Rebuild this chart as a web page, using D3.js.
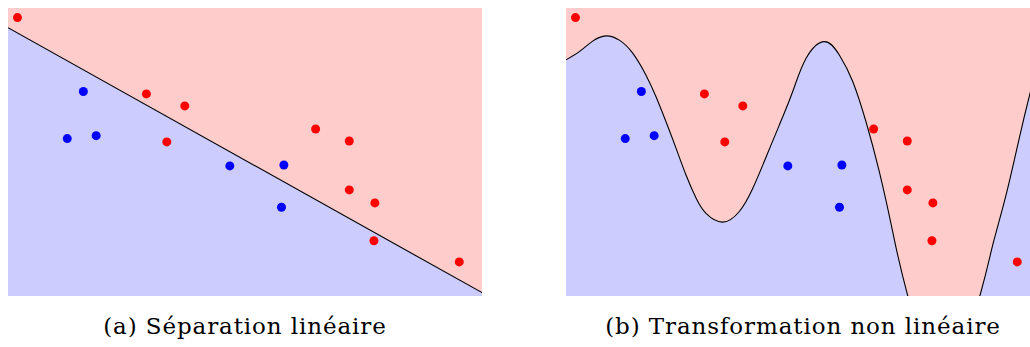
<!DOCTYPE html>
<html>
<head>
<meta charset="utf-8">
<script src="https://cdn.jsdelivr.net/npm/d3@7"></script>
<style>
  body { margin: 0; background: #fff; }
</style>
</head>
<body>
<svg width="1030" height="347"></svg>
<script>
// points (same in both panels)
const redX = [0.2, 2.92, 3.73, 3.35, 6.49, 7.2, 7.2, 7.74, 7.72, 9.52]
const redY = [5.8, 4.21, 3.96, 3.21, 3.48, 3.23, 2.21, 1.94, 1.15, 0.71]
const blueX = [1.59, 1.25, 1.86, 4.68, 5.82, 5.77]
const blueY = [4.26, 3.28, 3.34, 2.71, 2.73, 1.85]

// linear separator, y at x = 0 and x = 10
const lineX = [0, 10]
const lineY = [5.59, 0.07]

// non linear boundary
const curveX = [0, 0.281, 0.563, 0.844, 1.125, 1.407, 1.688, 1.899, 2.11, 2.321, 2.532, 2.743, 2.954, 3.306, 3.656, 3.939, 4.219, 4.5, 4.783, 5.063, 5.449, 5.766, 6.049, 6.329, 6.61, 6.892, 7.209, 7.975, 8.734, 9.002, 9.283, 9.563, 9.789, 10]
const curveY = [4.92, 5.09, 5.31, 5.42, 5.33, 5.06, 4.6, 4.15, 3.63, 3.08, 2.52, 2.04, 1.72, 1.54, 1.76, 2.24, 2.89, 3.56, 4.26, 4.95, 5.3, 5.02, 4.47, 3.63, 2.59, 1.34, 0.01, -1.6, 0.01, 1.06, 2.1, 3.29, 4.22, 5.02]

const captions = ['(a) Séparation linéaire', '(b) Transformation non linéaire']

const margin = { top: 8, left: 8 },
  width = 474,
  height = 288,
  gap = 84

const pink = '#ffcccc'
const lightBlue = '#ccccff'

const xScale = d3.scaleLinear().domain([0, 10]).range([0, width])
const yScale = d3.scaleLinear().domain([0, 6]).range([height, 0])

const svg = d3.select('svg')

const reds = redX.map((x, i) => [x, redY[i]])
const blues = blueX.map((x, i) => [x, blueY[i]])
const boundaries = [
  { pts: lineX.map((x, i) => [x, lineY[i]]), curve: d3.curveLinear },
  { pts: curveX.map((x, i) => [x, curveY[i]]), curve: d3.curveNatural },
]

boundaries.forEach((b, k) => {
  const g = svg
    .append('g')
    .attr('transform', 'translate(' + (margin.left + k * (width + gap)) + ',' + margin.top + ')')

  g.append('clipPath')
    .attr('id', 'clip' + k)
    .append('rect')
    .attr('width', width)
    .attr('height', height)

  const inner = g.append('g').attr('clip-path', 'url(#clip' + k + ')')

  inner.append('rect').attr('width', width).attr('height', height).attr('fill', pink)

  const area = d3
    .area()
    .x((d) => xScale(d[0]))
    .y0(height + 50)
    .y1((d) => yScale(d[1]))
    .curve(b.curve)

  inner.append('path').datum(b.pts).attr('d', area).attr('fill', lightBlue)

  const line = d3
    .line()
    .x((d) => xScale(d[0]))
    .y((d) => yScale(d[1]))
    .curve(b.curve)

  inner
    .append('path')
    .datum(b.pts)
    .attr('d', line)
    .attr('fill', 'none')
    .attr('stroke', 'black')
    .attr('stroke-width', 1.1)

  inner
    .selectAll('.red')
    .data(reds)
    .enter()
    .append('circle')
    .attr('class', 'red')
    .attr('cx', (d) => xScale(d[0]))
    .attr('cy', (d) => yScale(d[1]))
    .attr('r', 4.5)
    .attr('fill', '#ff0000')

  inner
    .selectAll('.blue')
    .data(blues)
    .enter()
    .append('circle')
    .attr('class', 'blue')
    .attr('cx', (d) => xScale(d[0]))
    .attr('cy', (d) => yScale(d[1]))
    .attr('r', 4.5)
    .attr('fill', '#0000ff')

  g.append('text')
    .attr('x', width / 2)
    .attr('y', 326)
    .attr('text-anchor', 'middle')
    .attr('font-family', 'DejaVu Serif, serif')
    .attr('font-size', 23)
    .attr('letter-spacing', 0.9)
    .attr('fill', '#000')
    .text(captions[k])
})
</script>
</body>
</html>
